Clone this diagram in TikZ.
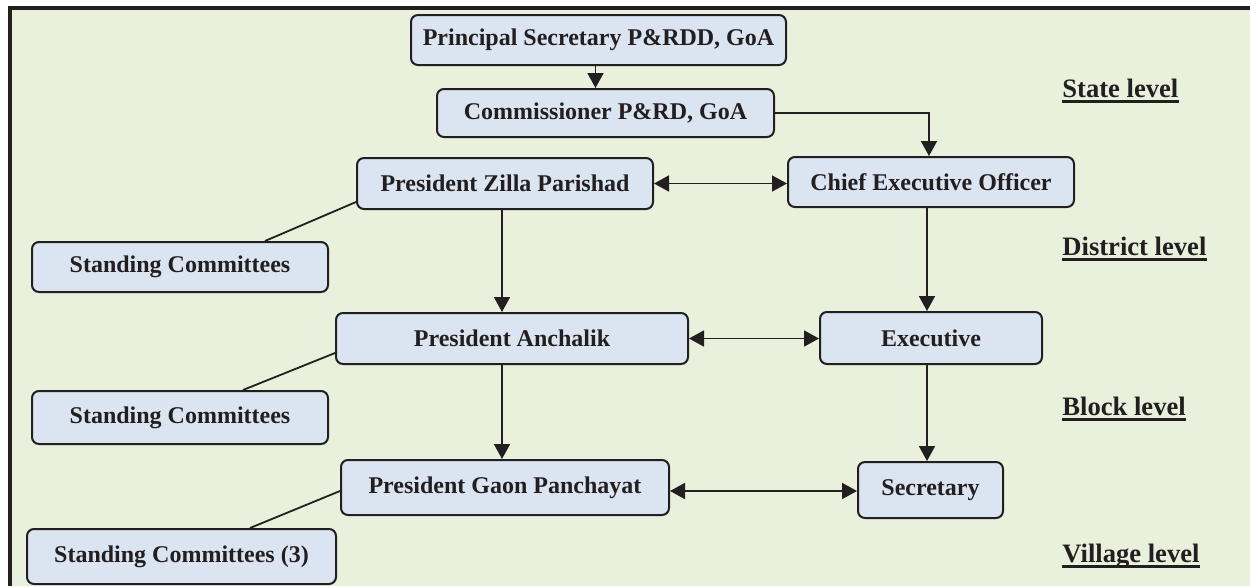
\documentclass[tikz,border=0pt]{standalone}
\usepackage{fontspec}
\setmainfont{Liberation Serif}
\usetikzlibrary{arrows.meta,calc}
\definecolor{bggreen}{HTML}{E9F0DC}
\definecolor{boxblue}{HTML}{DBE5F1}
\definecolor{ink}{HTML}{231F20}
\tikzset{
  box/.style={draw=ink, fill=boxblue, line width=1pt, rounded corners=3.5pt,
    text=ink, font=\fontsize{12}{14}\selectfont\bfseries, inner sep=0pt, align=center},
  arr/.style={draw=ink, line width=0.9pt, -{Triangle[length=7.5pt,width=8pt]}},
  darr/.style={draw=ink, line width=0.9pt, {Triangle[length=7.5pt,width=8pt]}-{Triangle[length=7.5pt,width=8pt]}},
  link/.style={draw=ink, line width=0.9pt},
  lvl/.style={text=ink, font=\fontsize{13.3}{16}\selectfont\bfseries, inner sep=0pt, anchor=base west},
}
\begin{document}
\begin{tikzpicture}[x=0.5pt,y=-0.5pt]
\useasboundingbox (0,0) rectangle (1250,586);
\fill[white] (0,0) rectangle (1250,586);
\fill[bggreen] (10,8) rectangle (1250,586);
\draw[ink, line width=1.6pt] (10,586) -- (10,8) -- (1250,8);

% boxes
\node[box, minimum width=187.5pt, minimum height=25pt] (ps) at (598.5,40) {Principal Secretary P\&RDD, GoA};
\node[box, minimum width=168.5pt, minimum height=24pt] (com) at (605.5,113) {Commissioner P\&RD, GoA};
\node[box, minimum width=148pt, minimum height=25.5pt] (pzp) at (505,183.5) {President Zilla Parishad};
\node[box, minimum width=143pt, minimum height=25pt] (ceo) at (931,182) {Chief Executive Officer};
\node[box, minimum width=148pt, minimum height=25pt] (sc1) at (180,267) {Standing Committees};
\node[box, minimum width=176pt, minimum height=25.5pt] (pa) at (512,338.5) {President Anchalik};
\node[box, minimum width=111pt, minimum height=26pt] (exe) at (931,338) {Executive};
\node[box, minimum width=148pt, minimum height=26.5pt] (sc2) at (180,417.5) {Standing Committees};
\node[box, minimum width=164pt, minimum height=27.5pt] (pgp) at (505,487.5) {President Gaon Panchayat};
\node[box, minimum width=72.5pt, minimum height=28pt] (sec) at (930.5,490) {Secretary};
\node[box, minimum width=154.5pt, minimum height=27.5pt] (sc3) at (181.5,556.5) {Standing Committees (3)};

% level labels
\node[lvl] (l1) at (1062,97) {State level};
\node[lvl] (l2) at (1062,255) {District level};
\node[lvl] (l3) at (1062,415) {Block level};
\node[lvl] (l4) at (1062,562) {Village level};
\foreach \n in {l1,l2,l3,l4}{
  \draw[ink, line width=1.3pt] ([yshift=-2.3pt]\n.base west) -- ([yshift=-2.3pt]\n.base east);
}

% connectors
\draw[arr] ([xshift=-1.5pt]ps.south) -- ([xshift=-1.5pt]ps.south |- com.north);
\draw[arr] (com.east) -| ([xshift=-1pt]ceo.north);
\draw[darr] (pzp.east) -- (pzp.east -| ceo.west);
\draw[arr] ([xshift=-1.5pt]pzp.south) -- ([xshift=-1.5pt]pzp.south |- pa.north);
\draw[arr] ([xshift=-2pt]ceo.south) -- ([xshift=-2pt]ceo.south |- exe.north);
\draw[darr] (pa.east) -- (pa.east -| exe.west);
\draw[arr] ([xshift=-5pt]pa.south) -- ([xshift=-5pt]pa.south |- pgp.north);
\draw[arr] ([xshift=-2pt]exe.south) -- ([xshift=-2pt]exe.south |- sec.north);
\draw[darr] ([yshift=-1.75pt]pgp.east) -- ([yshift=-1.75pt]pgp.east -| sec.west);
\draw[link] ([yshift=-9.25pt]pzp.west) -- ([xshift=42.5pt]sc1.north);
\draw[link] ([yshift=-7.25pt]pa.west) -- ([xshift=31.5pt]sc2.north);
\draw[link] ([yshift=-1.75pt]pgp.west) -- ([xshift=34.25pt]sc3.north);
\end{tikzpicture}
\end{document}
